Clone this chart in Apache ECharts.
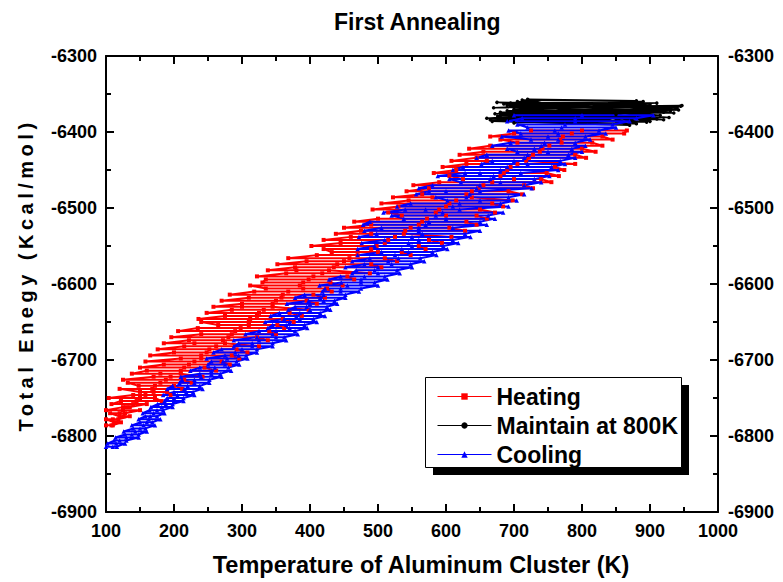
<!DOCTYPE html>
<html><head><meta charset="utf-8">
<script src="https://cdn.jsdelivr.net/npm/echarts@6/dist/echarts.min.js"></script>
<style>html,body{margin:0;padding:0;background:#fff}#c{width:783px;height:582px}</style>
</head><body><div id="c"></div>
<script>
const titleText = 'First Annealing';
const xName = 'Temperature of Aluminum Cluster (K)';
const yName = 'Total Enegy (Kcal/mol)';
const seriesNames = ['Heating', 'Maintain at 800K', 'Cooling'];

// Heating: each row is one near-constant-energy sweep (left, middle, right temperature)
const heatRowE = [-6786,-6782,-6778,-6774,-6770,-6766,-6762,-6758,-6754,-6750,-6746,-6742,-6738,-6734,-6730,-6726,-6722,-6718,-6714,-6710,-6706,-6702,-6698,-6694,-6690,-6686,-6682,-6678,-6674,-6670,-6666,-6662,-6658,-6654,-6650,-6646,-6642,-6638,-6634,-6630,-6626,-6622,-6618,-6614,-6610,-6606,-6602,-6598,-6594,-6590,-6586,-6582,-6578,-6574,-6570,-6566,-6562,-6558,-6554,-6550,-6546,-6542,-6538,-6534,-6530,-6526,-6522,-6518,-6514,-6510,-6506,-6502,-6498,-6494,-6490,-6486,-6482,-6478,-6474,-6470,-6466,-6462,-6458,-6454,-6450,-6446,-6442,-6438,-6434,-6430,-6426,-6422,-6418,-6414,-6410,-6406,-6402,-6398];
const heatRowL = [100,112,100,120,106,100,125,108,122,104,140,150,120,148,132,125,170,138,160,150,185,158,210,165,200,176,215,185,222,196,240,206,235,265,240,236,275,248,285,258,300,270,310,282,318,335,312,330,335,322,365,338,378,352,395,368,410,432,420,402,445,420,460,438,475,450,490,465,500,535,515,492,530,505,545,522,565,542,575,552,590,625,605,582,615,595,630,608,645,620,655,634,665,705,680,665,700,725];
const heatRowM = [108,116,110,126,120,125,130,140,145,150,158,170,168,172,180,188,195,180,210,215,222,230,240,240,248,252,262,230,272,280,285,290,298,310,310,312,322,325,332,300,345,350,358,360,368,390,385,390,398,405,418,380,435,440,450,458,470,500,490,498,510,515,525,490,540,548,560,565,572,600,585,590,600,605,615,580,630,638,648,655,668,700,680,685,690,695,705,660,722,728,738,742,752,770,768,772,785,800];
const heatRowR = [110,122,118,135,128,150,135,160,182,172,195,190,212,200,226,215,242,210,262,245,282,270,296,285,308,292,325,275,338,322,350,340,362,352,376,360,388,370,398,345,410,395,422,405,432,425,448,430,465,455,488,428,505,490,528,510,548,535,570,560,594,575,608,538,628,605,645,630,660,645,672,650,684,668,698,638,712,692,728,715,755,740,766,748,774,760,790,718,806,790,820,800,830,815,845,830,862,866];

// Maintain at 800K: sequence of (temperature, energy) samples
const holdT = [700,905,665,930,690,940,680,920,675,910,700,945,660,900,705,935,680,925,690,880,712,890,670,947,700,915,685,905,668,870,720,880,690,938,676,928,700,915,688,895,705,942,672,920,695,900,680,910,700,850];
const holdE = [-6388,-6380,-6384,-6372,-6365,-6368,-6378,-6384,-6361,-6362,-6370,-6366,-6382,-6386,-6360,-6375,-6374,-6370,-6385,-6389,-6358,-6360,-6368,-6365,-6380,-6378,-6363,-6373,-6386,-6391,-6357,-6359,-6372,-6369,-6379,-6381,-6364,-6367,-6383,-6387,-6366,-6371,-6376,-6374,-6362,-6364,-6381,-6383,-6373,-6377];

// Cooling rows
const coolRowE = [-6378,-6382,-6386,-6390,-6394,-6398,-6402,-6406,-6410,-6414,-6418,-6422,-6426,-6430,-6434,-6438,-6442,-6446,-6450,-6454,-6458,-6462,-6466,-6470,-6474,-6478,-6482,-6486,-6490,-6494,-6498,-6502,-6506,-6510,-6514,-6518,-6522,-6526,-6530,-6534,-6538,-6542,-6546,-6550,-6554,-6558,-6562,-6566,-6570,-6574,-6578,-6582,-6586,-6590,-6594,-6598,-6602,-6606,-6610,-6614,-6618,-6622,-6626,-6630,-6634,-6638,-6642,-6646,-6650,-6654,-6658,-6662,-6666,-6670,-6674,-6678,-6682,-6686,-6690,-6694,-6698,-6702,-6706,-6710,-6714,-6718,-6722,-6726,-6730,-6734,-6738,-6742,-6746,-6750,-6754,-6758,-6762,-6766,-6770,-6774,-6778,-6782,-6786,-6790,-6794,-6798,-6802,-6806,-6810,-6814];
const coolRowL = [700,712,690,705,720,692,710,682,725,695,668,690,705,660,645,668,652,625,610,628,588,605,622,580,560,575,556,585,602,548,528,540,508,520,538,488,478,505,480,498,472,510,476,495,470,505,470,488,462,480,452,468,462,445,428,446,414,422,418,392,378,398,366,378,368,355,342,362,334,345,338,325,305,322,288,295,288,270,258,275,248,255,250,238,224,238,210,212,208,198,190,200,184,190,186,176,166,164,154,158,148,150,138,140,126,128,114,112,102,100];
const coolRowM = [800,790,790,775,770,760,765,750,765,745,740,730,750,720,715,700,720,690,680,650,670,665,680,650,645,600,635,630,650,620,610,570,595,585,600,575,570,560,560,565,550,560,545,550,535,545,525,530,515,520,500,495,500,480,475,475,455,445,445,420,415,420,400,395,400,385,380,385,370,365,370,350,345,350,325,315,315,300,290,295,278,272,275,260,255,255,240,230,230,220,215,218,205,200,200,188,182,175,170,165,163,160,155,150,143,138,130,120,115,110];
const coolRowR = [905,880,870,845,850,825,835,805,812,790,805,785,800,780,790,768,775,755,765,710,752,730,740,715,726,650,715,692,704,680,692,620,684,662,672,650,660,610,650,628,636,610,618,596,602,580,586,562,568,548,550,528,532,510,514,495,500,475,472,452,452,436,440,425,430,415,422,405,410,392,396,378,382,362,365,345,345,322,322,306,308,292,296,280,284,268,270,252,252,238,242,228,230,214,214,198,198,184,186,175,180,168,172,158,160,148,148,130,128,116];

const xMin = 100, xMax = 1000, xStep = 100;
const yMin = -6900, yMax = -6300, yStep = 100;

function rowsToPoints(E, L, M, R) {
  const out = [];
  E.forEach((e, i) => {
    const row = [[L[i], e], [M[i], e], [R[i], e]];
    if (i % 2) row.reverse();
    out.push(...row);
  });
  return out;
}
const pairs = (a, b) => a.map((v, i) => [v, b[i]]);
const FONT = '"Liberation Sans", Arial, sans-serif';
const fmt = v => String(v);

function axisCommon(extra) {
  return Object.assign({
    type: 'value',
    axisLine: { show: true, onZero: false, lineStyle: { color: '#000', width: 2 } },
    axisTick: { show: true, inside: true, length: 8, lineStyle: { color: '#000', width: 2 } },
    minorTick: { show: true, splitNumber: 2, length: 5, lineStyle: { color: '#000', width: 2 } },
    splitLine: { show: false },
    minorSplitLine: { show: false }
  }, extra);
}
const lbl = m => ({ color: '#000', fontSize: 18, fontWeight: 'bold', fontFamily: FONT, margin: m, formatter: fmt });

const option = {
  animation: false,
  backgroundColor: '#fff',
  title: {
    text: titleText, left: 329, top: 5,
    textStyle: { fontSize: 23, fontWeight: 'bold', color: '#000', fontFamily: FONT }
  },
  grid: { left: 106, right: 65, top: 56, bottom: 70 },
  xAxis: [
    axisCommon({ position: 'bottom', min: xMin, max: xMax, interval: xStep, axisLabel: lbl(10),
      name: xName, nameLocation: 'middle', nameGap: 41,
      nameTextStyle: { fontSize: 23.5, fontWeight: 'bold', color: '#000', fontFamily: FONT, padding: [0, 0, 0, 18] } }),
    axisCommon({ position: 'top', min: xMin, max: xMax, interval: xStep, axisLabel: { show: false } })
  ],
  yAxis: [
    axisCommon({ position: 'left', min: yMin, max: yMax, interval: yStep, axisLabel: lbl(9),
      name: yName, nameLocation: 'middle', nameGap: 70,
      nameTextStyle: { fontSize: 20, fontWeight: 'bold', color: '#000', fontFamily: FONT, padding: [0, 0, 0, 18] } }),
    axisCommon({ position: 'right', min: yMin, max: yMax, interval: yStep, axisLabel: lbl(10) })
  ],
  graphic: [
    { type: 'rect', z: 3, left: 433, top: 385, shape: { width: 256, height: 90 }, style: { fill: '#000' } },
    { type: 'rect', z: 3, left: 425, top: 377, shape: { width: 256, height: 90 }, style: { fill: '#fff', stroke: '#000', lineWidth: 1 } }
  ],
  legend: {
    orient: 'vertical', left: 437, top: 385, itemWidth: 54, itemHeight: 8, itemGap: 6,
    padding: 0,
    lineStyle: { width: 1 },
    textStyle: { fontSize: 23, fontWeight: 'bold', color: '#000', fontFamily: FONT, lineHeight: 22 },
    data: seriesNames
  },
  series: [
    { name: seriesNames[0], type: 'line', data: rowsToPoints(heatRowE, heatRowL, heatRowM, heatRowR),
      symbol: 'rect', symbolSize: 4, showSymbol: true, showAllSymbol: true,
      lineStyle: { color: '#ff0000', width: 2 }, itemStyle: { color: '#ff0000' } },
    { name: seriesNames[1], type: 'line', data: pairs(holdT, holdE),
      symbol: 'circle', symbolSize: 3.5, showSymbol: true, showAllSymbol: true,
      lineStyle: { color: '#000000', width: 1.5 }, itemStyle: { color: '#000000' } },
    { name: seriesNames[2], type: 'line', data: rowsToPoints(coolRowE, coolRowL, coolRowM, coolRowR),
      symbol: 'triangle', symbolSize: 4.5, showSymbol: true, showAllSymbol: true,
      lineStyle: { color: '#0000ff', width: 2 }, itemStyle: { color: '#0000ff' } }
  ]
};

const chart = echarts.init(document.getElementById('c'), null, { renderer: 'svg' });
chart.setOption(option);
function spaceName() {
  document.querySelectorAll('#c svg text').forEach(t => {
    if (t.textContent === yName) t.setAttribute('letter-spacing', '4.5');
  });
}
chart.on('finished', spaceName);
spaceName();
setTimeout(spaceName, 50);
</script>
</body></html>
